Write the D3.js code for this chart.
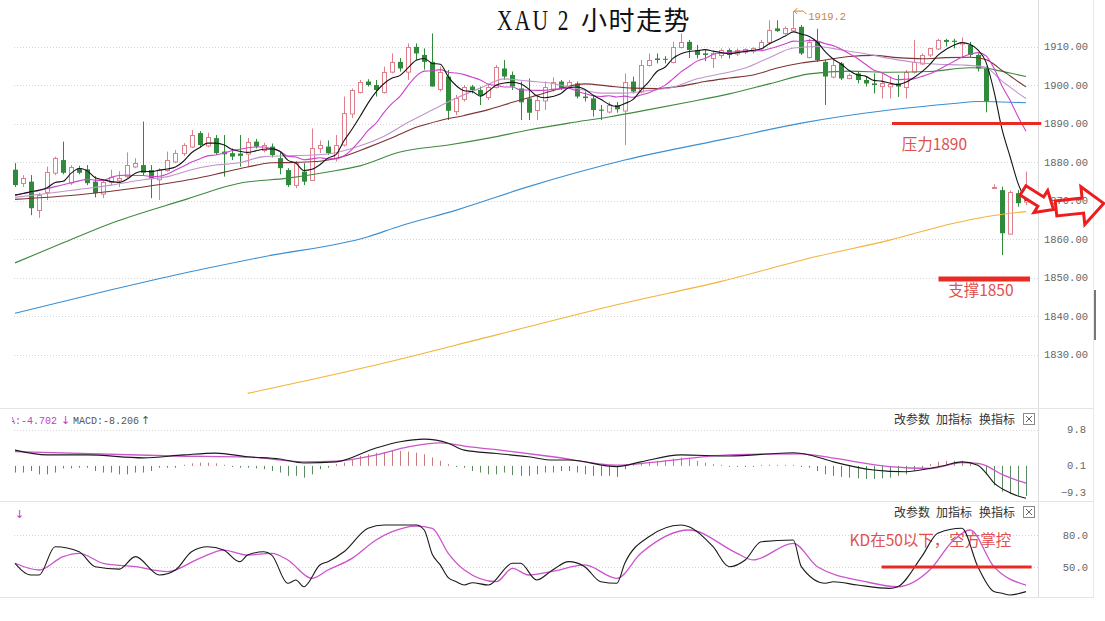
<!DOCTYPE html>
<html><head><meta charset="utf-8">
<script src="https://cdn.jsdelivr.net/npm/d3@7/dist/d3.min.js"></script>
<style>
html,body{margin:0;padding:0;background:#fff;}
svg{display:block;}
</style></head>
<body>
<svg id="chart" width="1105" height="621"></svg>
<script>
// ---------------- DATA ----------------
const opens = [1878.0,1874.5,1874.9,1867.5,1872.3,1877.2,1880.5,1874.6,1878.4,1878.1,
1874.9,1871.9,1874.9,1875.2,1876.2,1878.8,1879.2,1877.9,1875.5,1877.9,
1880.1,1882.3,1884.0,1887.5,1884.4,1886.2,1882.7,1882.3,1882.2,1882.3,
1885.3,1883.1,1884.0,1881.0,1877.9,1874.0,1877.5,1875.3,1883.6,1884.0,
1881.0,1884.4,1892.6,1898.3,1900.9,1900.0,1898.3,1903.5,1906.0,1903.5,
1909.9,1907.8,1906.0,1899.1,1902.2,1893.1,1896.5,1899.6,1898.7,1897.0,
1899.6,1904.3,1902.6,1899.1,1896.5,1893.5,1896.1,1899.1,1900.9,1899.7,
1900.4,1897.0,1896.5,1893.6,1893.1,1894.8,1893.5,1900.9,1898.3,1905.2,
1906.9,1906.8,1906.0,1909.9,1911.2,1909.1,1908.2,1906.9,1907.8,1909.1,
1908.2,1908.6,1908.8,1909.5,1911.2,1914.7,1913.4,1914.3,1915.1,1907.3,
1911.2,1906.0,1902.2,1905.6,1901.9,1903.0,1901.3,1900.4,1899.6,1899.6,
1900.4,1899.6,1903.5,1905.6,1907.8,1909.5,1911.7,1911.5,1910.8,1910.4,
1907.8,1904.3,1873.5,1872.7,1861.5,1871.9,1869.7];
const highs = [1879.7,1876.6,1876.6,1872.0,1878.8,1881.4,1885.3,1879.2,1879.0,1879.2,
1876.3,1875.3,1878.0,1877.6,1882.5,1881.0,1890.5,1879.2,1878.4,1882.7,
1883.1,1884.9,1888.3,1888.0,1887.6,1887.0,1887.0,1883.5,1887.0,1886.2,
1886.0,1885.0,1884.8,1882.5,1878.4,1880.3,1879.7,1888.7,1885.6,1885.6,
1887.0,1897.0,1899.1,1901.3,1901.5,1901.3,1904.8,1908.2,1907.0,1910.8,
1910.8,1909.5,1913.4,1904.8,1903.9,1897.4,1900.0,1900.0,1899.6,1900.0,
1905.2,1906.5,1903.5,1900.9,1901.7,1897.4,1900.9,1902.0,1901.3,1901.3,
1900.9,1898.3,1897.4,1894.8,1895.6,1895.6,1903.0,1902.2,1906.5,1908.2,
1908.2,1907.5,1911.2,1913.4,1911.7,1910.4,1909.1,1908.6,1909.5,1909.5,
1909.5,1909.5,1909.8,1911.7,1916.8,1916.8,1915.2,1919.2,1915.6,1912.0,
1914.6,1906.5,1906.5,1906.0,1903.0,1903.5,1902.2,1903.0,1903.0,1902.2,
1902.6,1903.9,1911.7,1908.2,1909.5,1912.0,1912.0,1912.0,1912.4,1911.2,
1908.2,1904.8,1874.2,1873.6,1872.6,1872.7,1877.5];
const lows = [1873.5,1873.5,1866.2,1865.5,1870.1,1876.6,1876.8,1874.0,1876.8,1874.0,
1870.8,1870.6,1873.8,1873.5,1875.8,1878.4,1876.5,1870.6,1870.1,1877.5,
1879.7,1881.6,1883.6,1883.8,1883.8,1881.8,1876.2,1880.5,1878.8,1878.8,
1883.5,1882.5,1881.2,1876.8,1873.5,1873.2,1874.0,1875.3,1882.3,1881.8,
1880.1,1884.0,1891.4,1897.8,1899.6,1897.0,1897.8,1903.0,1903.5,1901.3,
1906.5,1904.0,1899.6,1898.3,1890.9,1892.2,1895.7,1897.8,1894.8,1896.1,
1899.1,1901.3,1898.7,1890.9,1890.9,1890.9,1893.5,1898.3,1898.7,1899.1,
1896.5,1895.7,1891.8,1890.9,1892.6,1892.8,1884.4,1897.8,1897.8,1904.8,
1905.6,1905.6,1905.6,1909.5,1907.0,1906.9,1906.2,1904.4,1906.9,1906.9,
1907.5,1908.0,1908.2,1909.1,1910.4,1913.8,1913.0,1914.0,1907.8,1906.9,
1906.0,1894.8,1901.7,1901.3,1901.5,1900.4,1899.6,1897.8,1896.5,1896.5,
1896.9,1896.5,1903.0,1905.2,1907.3,1909.1,1910.0,1909.5,1906.9,1907.3,
1903.5,1892.9,1873.3,1855.8,1861.2,1868.4,1868.8];
const closes = [1874.0,1875.8,1868.0,1871.4,1877.5,1881.0,1877.2,1878.6,1877.2,1874.5,
1871.9,1874.9,1876.2,1875.8,1879.1,1879.7,1877.2,1875.8,1877.9,1880.5,
1882.3,1884.4,1887.0,1884.4,1886.6,1882.3,1882.0,1881.4,1881.6,1885.3,
1884.0,1884.4,1881.8,1878.4,1874.0,1879.7,1874.9,1883.6,1884.4,1882.3,
1884.4,1892.6,1898.7,1900.9,1900.0,1898.7,1903.5,1906.0,1904.3,1909.9,
1908.2,1906.0,1899.6,1903.5,1893.3,1896.5,1899.6,1898.7,1897.4,1899.6,
1904.8,1902.2,1899.6,1895.5,1892.8,1896.1,1899.6,1900.9,1899.1,1900.9,
1897.0,1896.6,1893.5,1893.3,1894.8,1893.7,1900.9,1898.3,1905.2,1906.5,
1906.5,1906.6,1909.9,1911.2,1909.1,1907.8,1907.8,1908.2,1909.1,1907.8,
1909.1,1909.3,1909.5,1911.2,1914.3,1914.0,1914.7,1914.9,1908.2,1911.2,
1906.5,1902.2,1905.2,1901.7,1902.7,1901.3,1900.4,1900.0,1900.4,1900.2,
1899.6,1903.5,1906.0,1907.8,1909.5,1911.7,1911.2,1911.2,1911.2,1907.8,
1904.3,1895.7,1873.6,1861.5,1872.3,1869.3,1872.7];

// moving averages (one value per candle)
const ma5 = [1871.4,1871.8,1872.3,1872.7,1873.3,1874.7,1875.0,1877.1,1878.3,1877.7,
1875.9,1875.4,1874.9,1874.7,1875.6,1877.1,1877.6,1877.5,1877.9,1878.2,
1878.7,1880.2,1882.4,1883.7,1884.9,1884.9,1884.5,1883.3,1882.8,1882.5,
1882.9,1883.3,1883.4,1882.8,1880.5,1879.7,1877.8,1878.1,1879.3,1881.0,
1881.9,1885.5,1888.5,1891.8,1895.3,1898.2,1900.4,1901.8,1902.5,1904.5,
1906.4,1906.9,1905.6,1905.4,1902.1,1899.8,1898.5,1898.3,1897.1,1898.4,
1900.0,1900.5,1900.7,1900.3,1899.0,1897.2,1896.7,1897.0,1897.7,1899.3,
1899.5,1898.9,1897.4,1896.3,1895.0,1894.4,1895.2,1896.2,1898.6,1900.9,
1903.5,1904.6,1906.9,1908.1,1908.7,1908.9,1909.2,1908.8,1908.4,1908.1,
1908.4,1908.7,1909.0,1909.4,1910.7,1911.7,1912.7,1913.8,1913.2,1912.6,
1911.1,1908.6,1906.7,1905.4,1903.7,1902.6,1902.3,1901.2,1901.0,1900.5,
1900.1,1900.7,1901.9,1903.4,1905.3,1907.7,1909.2,1910.3,1911.0,1910.6,
1909.1,1906.0,1898.5,1888.6,1881.5,1874.5,1869.9];
const ma10 = [1871.4,1871.8,1872.2,1872.6,1873.1,1873.6,1874.1,1874.6,1875.1,1875.5,
1875.3,1875.2,1876.0,1876.5,1876.6,1876.5,1876.5,1876.2,1876.3,1876.9,
1877.9,1878.9,1880.0,1880.8,1881.6,1881.8,1882.3,1882.9,1883.3,1883.7,
1883.9,1883.9,1883.4,1882.8,1881.5,1881.3,1880.6,1880.8,1881.1,1880.8,
1880.8,1881.6,1883.3,1885.6,1888.2,1890.1,1892.9,1895.2,1897.1,1899.9,
1902.3,1903.6,1903.7,1904.0,1903.3,1903.1,1902.7,1902.0,1901.3,1900.2,
1899.9,1899.5,1899.5,1898.7,1898.7,1898.6,1898.6,1898.9,1899.0,1899.2,
1898.4,1897.8,1897.2,1897.0,1897.2,1896.9,1897.1,1896.8,1897.4,1898.0,
1898.9,1899.9,1901.6,1903.4,1904.8,1906.2,1906.9,1907.9,1908.3,1908.4,
1908.7,1908.9,1908.9,1908.9,1909.4,1910.0,1910.7,1911.4,1911.3,1911.6,
1911.4,1910.7,1910.2,1909.3,1908.1,1906.9,1905.4,1903.9,1903.2,1902.1,
1901.4,1901.5,1901.6,1902.2,1902.9,1903.9,1905.0,1906.1,1907.2,1908.0,
1908.4,1907.6,1904.4,1899.8,1896.1,1891.8,1888.0];
// smoother averages, [candle index, value]
const ma20 = [[0,1870.8],[4,1871.8],[8,1872.9],[12,1874.0],[16,1875.4],[19,1876.2],[22,1878.0],[25,1879.2],[28,1879.8],[31,1881.4],[34,1881.6],[37,1881.8],[40,1882.4],[43,1884.2],[46,1886.7],[49,1890.3],[52,1893.5],[55,1896.6],[58,1899.2],[61,1901.6],[64,1901.0],[67,1900.4],[70,1899.1],[73,1897.9],[76,1897.9],[79,1898.6],[82,1899.4],[85,1901.6],[88,1902.9],[91,1904.4],[94,1907.1],[97,1909.6],[100,1910.0],[103,1909.1],[106,1908.1],[109,1906.9],[112,1905.9],[115,1905.4],[118,1905.2],[120,1904.9],[121,1904.6],[122,1903.0],[123,1901.0],[124,1899.5],[125,1897.9],[126,1896.5]];
const ma30 = [[0,1870.3],[8,1871.5],[16,1873.5],[22,1875.5],[26,1877.3],[29,1878.7],[32,1879.8],[35,1879.9],[38,1880.2],[41,1881.5],[44,1883.8],[47,1886.3],[50,1889.0],[53,1890.8],[56,1892.1],[59,1893.6],[62,1895.5],[65,1897.3],[68,1899.1],[71,1900.3],[74,1899.7],[77,1899.2],[80,1899.1],[83,1899.7],[86,1900.9],[89,1901.8],[92,1902.6],[95,1904.4],[98,1905.7],[101,1906.5],[104,1907.4],[107,1907.7],[110,1907.1],[113,1906.8],[116,1907.1],[119,1907.2],[121,1906.6],[122,1905.4],[123,1903.8],[124,1902.4],[125,1900.9],[126,1899.5]];
const ma60 = [[0,1853.8],[6,1859.0],[12,1864.1],[21,1870.1],[28,1874.5],[34,1875.8],[39,1877.4],[43,1879.0],[48,1882.6],[54,1884.4],[59,1886.2],[64,1888.3],[69,1890.1],[74,1891.7],[79,1893.6],[84,1895.6],[89,1897.7],[94,1900.3],[99,1902.9],[104,1903.6],[109,1903.3],[114,1903.5],[119,1904.5],[121,1904.4],[122,1904.0],[124,1903.1],[126,1902.2]];
const ma120 = [[0,1840.7],[12,1846.8],[21,1851.1],[31,1855.4],[44,1860.6],[48,1863.4],[55,1867.5],[64,1873.6],[76,1880.5],[89,1886.2],[98,1890.1],[109,1893.5],[117,1895.2],[120,1895.7],[123,1895.6],[126,1895.4]];
const ma250 = [[29,1819.9],[44,1826.8],[60,1835.1],[75,1842.9],[88,1849.0],[100,1855.5],[109,1859.7],[117,1864.1],[121,1865.8],[126,1867.1]];

// MACD
const difLine = [[0,4.3],[4,3.0],[9,3.0],[16,2.2],[21,3.0],[25,3.5],[29,2.5],[33,1.9],[36,0.8],[40,1.1],[45,4.9],[48,6.6],[51,7.3],[54,6.2],[56,4.3],[60,3.4],[64,2.5],[67,1.6],[69,1.6],[75,-0.2],[78,1.1],[83,3.0],[89,2.7],[97,3.6],[99,3.0],[102,1.1],[107,-1.1],[111,-1.6],[114,-0.7],[116,0.2],[118,1.1],[120,0.2],[121,-1.9],[122,-4.6],[123,-6.2],[124,-7.3],[125,-8.2],[126,-8.8]];
const deaLine = [[0,3.9],[20,2.7],[29,2.4],[36,1.1],[40,1.3],[45,3.0],[49,5.2],[53,6.3],[56,5.4],[62,3.9],[67,2.5],[75,0.2],[80,1.1],[89,3.0],[98,3.3],[102,2.1],[109,-0.2],[114,-0.7],[118,0.9],[120,0.7],[121,0.1],[122,-1.1],[123,-2.3],[124,-3.2],[125,-4.0],[126,-4.7]];
const macdHist = [-1.8,-1.8,-1.4,-2.3,-2.3,-1.8,-0.7,-0.7,-0.5,-0.5,
-1.4,-1.8,-1.8,-2.3,-2.3,-1.8,-1.8,-1.4,-0.5,-0.5,
-0.5,0.3,0.7,0.9,0.9,0.7,0.3,-0.3,-0.5,-0.5,
-0.7,-0.9,-1.4,-1.8,-2.7,-2.7,-3.2,-2.3,-0.9,-0.5,
0.5,0.9,1.8,2.7,3.2,3.6,3.8,4.1,4.1,3.9,
3.6,3.2,2.3,1.4,0.5,-0.3,-0.5,-1.4,-1.8,-2.3,
-2.3,-1.8,-2.5,-2.7,-2.7,-2.3,-1.8,-1.8,-1.4,-1.4,
-1.8,-2.3,-2.7,-2.7,-2.7,-3.0,-0.9,0.3,0.7,1.1,
1.4,1.6,2.0,2.3,1.8,1.4,0.9,0.5,0.2,-0.2,
-0.2,-0.3,-0.2,0.2,0.3,0.2,0.2,0.2,-0.3,-0.5,
-1.4,-2.3,-2.7,-3.0,-3.2,-3.4,-3.6,-3.6,-3.4,-3.2,
-2.7,-2.3,-1.4,-0.5,0.5,1.1,1.4,1.4,1.4,1.1,
0.3,-2.4,-5.3,-7.0,-7.7,-8.1,-8.2];

// KD
const kLine = [[0,53.5],[2,42.5],[3,42.5],[5,69],[8,64.3],[10,50.3],[13,48],[15,59.7],[18,42.5],[20,47.2],[22,64.3],[24,69],[26,65.9],[28,55],[29,61.2],[31,64.3],[32,61.2],[34,34.7],[35,37.8],[36,31.5],[38,51.9],[39,55],[41,64.3],[44,86.3],[46,89.4],[48,89.4],[50,89.4],[51,84.7],[52,62],[53,52],[54,40],[55,36.2],[56,33.1],[57,35.3],[59,33.1],[62,53.5],[63,53.5],[65,37.8],[67,47.2],[69,55],[71,50.3],[73,36.2],[75,34.7],[76,53.5],[79,78.4],[83,89.4],[84,87.8],[87,69],[89,50.3],[91,56.6],[93,73.7],[97,75.3],[98,50.3],[101,34.7],[102,36.2],[105,33.1],[109,30],[110,31.5],[113,59.7],[115,81.6],[118,86.3],[120,50.3],[122,27],[123,25.4],[124,23.8],[126,26.9]];
const dLine = [[0,53.5],[3,47.2],[6,59.7],[8,62.8],[11,53.5],[15,50.3],[19,45.6],[23,58.1],[26,65.9],[29,61.2],[32,62.8],[34,56.6],[37,39.4],[39,47.2],[42,58.1],[45,75.3],[47,83.1],[50,88.4],[52,86.3],[54,62.8],[56,47.2],[60,36.2],[62,48.8],[64,42.5],[67,46],[71,51.9],[75,39.4],[78,62.8],[84,84.7],[90,62.8],[92,56.6],[97,72.2],[100,50.3],[106,36.2],[110,31.5],[114,47.2],[117,75.3],[119,84.7],[122,50.3],[126,33.1]];

const priceTicks = [1910,1900,1890,1880,1870,1860,1850,1840,1830];
const macdTicks = [9.8,0.1,-9.3];
const kdTicks = [80,50];
const highMark = {index:97, price:1919.2, label:'1919.2'};
const levelNotes = [
  {value:1890, from:109.3, to:127.9, label:'压力1890', labelPrice:1883.2, labelIdx:110.5, w:3},
  {value:1849.6, from:115.1, to:126.5, label:'支撑1850', labelPrice:1845.2, labelIdx:116.3, w:5}
];
const kdNote = {value:50, from:108, to:126.7, label:'KD在50以下，空方掌控', labelValue:70, labelIdx:104};
const title = ['XAU 2', '小时走势'];

// ---------------- SCALES ----------------
const svg = d3.select('#chart');
const x = d3.scaleLinear().domain([0,126]).range([15,1026]);
const y = d3.scaleLinear().domain([1830,1910]).range([354.5,46.5]);
const ym = d3.scaleLinear().domain([-9.3,9.8]).range([500,430]);
const yk = d3.scaleLinear().domain([50,80]).range([567,535]);
const AXX = 1038;
const UP = '#e07f8c', DN = '#2f8a3c', RED = '#ea2a25', RED_T = '#e2504e';
const MONO = "'Liberation Mono','DejaVu Sans Mono',monospace";
const CJK = "'Noto Sans CJK SC','Noto Sans',sans-serif";

const defs = svg.append('defs');
[['clipMain',12,0,AXX-12,408],['clipMacd',12,409,AXX-12,92],['clipKd',12,503,AXX-12,95]].forEach(c=>{
  defs.append('clipPath').attr('id',c[0]).append('rect').attr('x',c[1]).attr('y',c[2]).attr('width',c[3]).attr('height',c[4]);
});

// frame lines
svg.append('line').attr('x1',AXX+0.5).attr('x2',AXX+0.5).attr('y1',0).attr('y2',598).attr('stroke','#dcdcdc');
svg.append('line').attr('x1',1093.5).attr('x2',1093.5).attr('y1',0).attr('y2',598).attr('stroke','#e8e8e8');
svg.append('rect').attr('x',1094).attr('y',290).attr('width',2).attr('height',50).attr('fill','#777');
[408.5,501.5,597.5].forEach(v=>svg.append('line').attr('x1',0).attr('x2',1093).attr('y1',v).attr('y2',v).attr('stroke','#e4e4e4'));

// gridlines
const grid = svg.append('g').attr('stroke','#d6d6d6').attr('stroke-dasharray','1,2');
priceTicks.forEach(t=>grid.append('line').attr('x1',14).attr('x2',AXX).attr('y1',Math.round(y(t))+0.5).attr('y2',Math.round(y(t))+0.5));
grid.append('line').attr('x1',14).attr('x2',AXX).attr('y1',Math.round(ym(9.8))+0.5).attr('y2',Math.round(ym(9.8))+0.5);
kdTicks.forEach(t=>grid.append('line').attr('x1',14).attr('x2',AXX).attr('y1',Math.round(yk(t))+0.5).attr('y2',Math.round(yk(t))+0.5));

// axes (labels only)
function styleAxis(g){
  g.select('.domain').remove();
  g.selectAll('text').attr('font-family',MONO).attr('font-size',10.5).attr('fill','#666');
}
svg.append('g').attr('transform',`translate(1088,0)`)
  .call(d3.axisLeft(y).tickValues(priceTicks).tickFormat(d3.format('.2f')).tickSize(0).tickPadding(0)).call(styleAxis);
const gmA = svg.append('g').attr('transform',`translate(1086,0)`)
  .call(d3.axisLeft(ym).tickValues(macdTicks).tickFormat(d3.format('.1f')).tickSize(0).tickPadding(0)).call(styleAxis);
gmA.selectAll('.tick').attr('transform',d=>`translate(0,${Math.min(493,Math.max(430,ym(d)))})`);
svg.append('g').attr('transform',`translate(1088,0)`)
  .call(d3.axisLeft(yk).tickValues(kdTicks).tickFormat(d3.format('.1f')).tickSize(0).tickPadding(0)).call(styleAxis);

// ---------------- MAIN PANEL ----------------
const main = svg.append('g').attr('clip-path','url(#clipMain)');

levelNotes.forEach(n=>{
  main.append('text').attr('x',x(n.labelIdx)).attr('y',y(n.labelPrice))
    .attr('font-family',CJK).attr('font-size',15.5).attr('fill',RED_T).text(n.label);
});

const candles = opens.map((o,i)=>({i,o,h:highs[i],l:lows[i],c:closes[i]}));
const gC = main.append('g');
const cx = d=>Math.round(x(d.i));
gC.selectAll('line').data(candles).join('line')
  .attr('x1',d=>cx(d)+0.5).attr('x2',d=>cx(d)+0.5)
  .attr('y1',d=>y(d.h)).attr('y2',d=>y(d.l))
  .attr('stroke',d=>d.c>=d.o?UP:DN);
gC.selectAll('rect').data(candles).join('rect')
  .attr('x',d=>d.c>=d.o?cx(d)-1.5:cx(d)-2)
  .attr('y',d=>d.c>=d.o?Math.round(y(Math.max(d.o,d.c)))+0.5:y(Math.max(d.o,d.c)))
  .attr('width',d=>d.c>=d.o?4:5)
  .attr('height',d=>Math.max(1,Math.abs(y(d.o)-y(d.c))))
  .attr('fill',d=>d.c>=d.o?'#fff':DN)
  .attr('stroke',d=>d.c>=d.o?UP:'none');

const lp = d3.line().x(d=>x(d[0])).y(d=>y(d[1])).curve(d3.curveMonotoneX);
const maDefs = [
  [ma250,'#f2b43a'],[ma120,'#3a8fd2'],[ma60,'#3f8a3f'],[ma30,'#7d3434'],
  [ma20,'#bf95cc'],[ma10.map((v,i)=>[i,v]),'#cc44cc'],[ma5.map((v,i)=>[i,v]),'#151515']
];
maDefs.forEach(m=>main.append('path').attr('d',lp(m[0])).attr('fill','none').attr('stroke',m[1]).attr('stroke-width',1.1));

levelNotes.forEach(n=>{
  svg.append('line').attr('x1',x(n.from)).attr('x2',x(n.to)).attr('y1',y(n.value)).attr('y2',y(n.value))
    .attr('stroke',RED).attr('stroke-width',n.w);
});

// high marker
const hmX = x(highMark.index), hmY = y(highMark.price);
svg.append('path').attr('d',`M${hmX+1},${hmY} H${hmX+10} L${hmX+13},${hmY+3} M${hmX+4},${hmY-3} L${hmX+1},${hmY} L${hmX+4},${hmY+3}`)
  .attr('fill','none').attr('stroke','#c9843f').attr('stroke-width',1);
svg.append('text').attr('x',hmX+15).attr('y',hmY+9).attr('font-family',MONO).attr('font-size',10.5)
  .attr('fill','#c9843f').text(highMark.label);

// title
const SERIF = "'Liberation Serif','DejaVu Serif',serif";
svg.append('text').attr('transform','translate(497,30) scale(0.74,1)').attr('fill','#111')
  .attr('font-family',SERIF).attr('font-size',29).attr('letter-spacing',3).attr('xml:space','preserve').text(title[0]);
svg.append('text').attr('x',581).attr('y',30).attr('fill','#111').attr('font-family',CJK).attr('font-size',26)
  .attr('letter-spacing',1.5).text(title[1]);

// ---------------- MACD PANEL ----------------
const macd = svg.append('g').attr('clip-path','url(#clipMacd)');
macd.selectAll('line').data(macdHist).join('line')
  .attr('x1',(d,i)=>Math.round(x(i))+0.5).attr('x2',(d,i)=>Math.round(x(i))+0.5)
  .attr('y1',ym(0)).attr('y2',d=>Math.abs(d)<0.25?ym(0)+(d<0?1:-1):ym(d))
  .attr('stroke',d=>d>=0?'#c77b7b':'#5b8a60');
const lm = d3.line().x(d=>x(d[0])).y(d=>ym(d[1])).curve(d3.curveMonotoneX);
macd.append('path').attr('d',lm(deaLine)).attr('fill','none').attr('stroke','#cc55cc').attr('stroke-width',1.3);
macd.append('path').attr('d',lm(difLine)).attr('fill','none').attr('stroke','#1a1a1a').attr('stroke-width',1.1);

const hdr = svg.append('g').attr('clip-path','url(#clipMacd)');
const ht = hdr.append('text').attr('y',424).attr('font-family',MONO).attr('font-size',10);
ht.append('tspan').attr('x',3).attr('fill','#c040c0').text('EA:-4.702');
ht.append('tspan').attr('x',61).attr('fill','#c040c0').attr('font-family',"'DejaVu Sans',sans-serif").attr('font-size',11).text('↓');
ht.append('tspan').attr('x',73).attr('fill','#555').text('MACD:-8.206');
ht.append('tspan').attr('x',141).attr('fill','#555').attr('font-family',"'DejaVu Sans',sans-serif").attr('font-size',11).text('↑');

// panel header buttons
[424,517].forEach(by=>{
  const g = svg.append('g').attr('font-family',CJK).attr('font-size',12).attr('fill','#333');
  g.append('text').attr('x',894).attr('y',by).text('改参数');
  g.append('text').attr('x',936).attr('y',by).text('加指标');
  g.append('text').attr('x',979).attr('y',by).text('换指标');
  svg.append('rect').attr('x',1023.5).attr('y',by-10.5).attr('width',11).attr('height',11).attr('fill','#fff').attr('stroke','#8a8a8a');
  svg.append('path').attr('d',`M${1026},${by-8} L${1032},${by-2} M${1032},${by-8} L${1026},${by-2}`).attr('stroke','#666');
});

// ---------------- KD PANEL ----------------
const kd = svg.append('g').attr('clip-path','url(#clipKd)');
kd.append('text').attr('x',x(kdNote.labelIdx)).attr('y',yk(kdNote.labelValue))
  .attr('font-family',CJK).attr('font-size',15.5).attr('fill',RED_T).text(kdNote.label);
const lk = d3.line().x(d=>x(d[0])).y(d=>yk(d[1])).curve(d3.curveMonotoneX);
kd.append('path').attr('d',lk(dLine)).attr('fill','none').attr('stroke','#cc55cc').attr('stroke-width',1.3);
kd.append('path').attr('d',lk(kLine)).attr('fill','none').attr('stroke','#1a1a1a').attr('stroke-width',1.1);
svg.append('line').attr('x1',x(kdNote.from)).attr('x2',x(kdNote.to)).attr('y1',yk(kdNote.value)).attr('y2',yk(kdNote.value))
  .attr('stroke',RED).attr('stroke-width',3);
svg.append('text').attr('x',15).attr('y',518).attr('font-family',"'DejaVu Sans',sans-serif").attr('font-size',11).attr('fill','#c040c0').text('↓');

// ---------------- ARROWS ----------------
function arrowPath(tx,ty,len,sh,hh,hl,ang){
  const pts=[[0,-sh/2],[len-hl,-sh/2],[len-hl,-hh/2],[len,0],[len-hl,hh/2],[len-hl,sh/2],[0,sh/2]];
  const a=ang*Math.PI/180, c=Math.cos(a), s=Math.sin(a);
  return 'M'+pts.map(p=>[(tx+p[0]*c-p[1]*s).toFixed(1),(ty+p[0]*s+p[1]*c).toFixed(1)].join(',')).join('L')+'Z';
}
const ax0 = x(126), ay0 = y(1869.5);
svg.append('path').attr('d',arrowPath(ax0-3,ay0-12,36,11,26,15,32)).attr('fill','#fff').attr('stroke','#ee1d1d').attr('stroke-width',3).attr('stroke-linejoin','miter');
svg.append('path').attr('d',arrowPath(ax0+30,ay0+6,48,15,38,21,-6)).attr('fill','none').attr('stroke','#ee1d1d').attr('stroke-width',3).attr('stroke-linejoin','miter');
</script>
</body></html>
